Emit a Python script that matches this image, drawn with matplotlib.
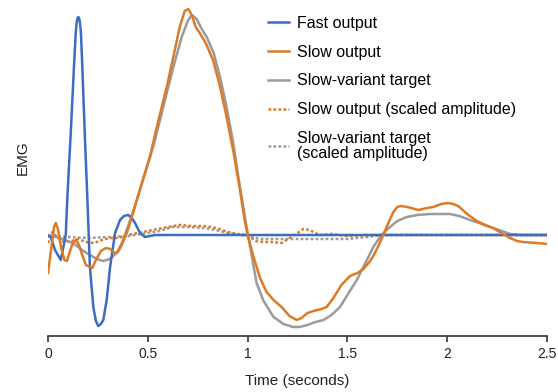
import matplotlib
matplotlib.use("Agg")
from matplotlib import pyplot as plt

plt.rcParams['font.family'] = ['Liberation Sans', 'DejaVu Sans']

# values (time in s, EMG in arbitrary units)
fast_t = [0, 0.0135, 0.035, 0.064, 0.089, 0.097, 0.114, 0.130, 0.139, 0.144, 0.148, 0.152,
          0.157, 0.161, 0.165, 0.172, 0.184, 0.197, 0.210, 0.227, 0.240, 0.252, 0.265, 0.277,
          0.294, 0.311, 0.336, 0.361, 0.380, 0.402, 0.420, 0.436, 0.461, 0.486, 0.536, 2.5]
fast_v = [-1, -2, -15, -25, 0, 38, 102, 168, 202, 213, 217, 218,
          216, 211, 202, 168, 102, 38, -32, -72, -86, -91, -89, -85,
          -65, -32, 2, 15, 19, 20, 17, 12, 2, -2, 0, 0]

slow_t = [0, 0.012, 0.022, 0.03, 0.039, 0.05, 0.065, 0.082, 0.095, 0.11, 0.125, 0.14,
          0.155, 0.175, 0.19, 0.222, 0.24, 0.265, 0.29, 0.31, 0.335, 0.35, 0.37, 0.40,
          0.43, 0.46, 0.51, 0.55, 0.595, 0.63, 0.66, 0.685, 0.703, 0.72, 0.74, 0.76,
          0.79, 0.827, 0.86, 0.895, 0.93, 0.962, 0.985, 1.0, 1.03, 1.062, 1.095, 1.13,
          1.17, 1.21, 1.246, 1.27, 1.3, 1.33, 1.37, 1.396, 1.43, 1.47, 1.513, 1.55,
          1.58, 1.61, 1.63, 1.655, 1.68, 1.705, 1.73, 1.75, 1.77, 1.8, 1.855, 1.9,
          1.93, 1.97, 2.005, 2.03, 2.055, 2.1, 2.148, 2.19, 2.23, 2.27, 2.315, 2.35,
          2.38, 2.45, 2.5]
slow_v = [-38, -20, -5, 8, 12, 6, -12, -25, -26, -16, -8, -5,
          -10, -22, -30, -33, -25, -16, -13, -14, -18, -17, -10, 5,
          25, 45, 78, 112, 148, 180, 208, 224, 226, 220, 208, 202,
          192, 175, 150, 118, 82, 45, 15, 0, -22, -43, -57, -65,
          -72, -81, -85, -83, -78, -76, -74, -72, -63, -50, -41, -38,
          -34, -27, -21, -11, 0, 12, 23, 28, 29, 28, 25, 27,
          28, 31, 32, 31, 29, 21, 14, 10, 7, 2, -3, -6,
          -7, -8, -9]

target_t = [0, 0.06, 0.125, 0.17, 0.21, 0.245, 0.276, 0.31, 0.344, 0.37, 0.394, 0.43,
            0.46, 0.527, 0.58, 0.628, 0.67, 0.70, 0.72, 0.745, 0.77, 0.795, 0.83,
            0.862, 0.895, 0.928, 0.96, 0.995, 1.02, 1.045, 1.08, 1.13, 1.18, 1.228,
            1.26, 1.3, 1.34, 1.38, 1.42, 1.463, 1.5, 1.547, 1.59, 1.63, 1.67, 1.713,
            1.75, 1.797, 1.85, 1.914, 1.96, 2.014, 2.06, 2.114, 2.16, 2.214, 2.26,
            2.315, 2.37, 2.5]
target_v = [0, -3, -8, -15, -20, -24, -26, -24, -18, -8, 5, 25,
            45, 88, 130, 168, 198, 214, 220, 216, 206, 198, 182,
            158, 128, 92, 50, 8, -20, -48, -66, -82, -89, -92,
            -92, -90, -87, -85, -80, -72, -60, -45, -28, -12, 0, 8,
            14, 18, 20, 21, 21, 21, 19, 15, 12, 8, 5,
            1, 0, 0]

slow_sc_t = [0, 0.022, 0.05, 0.08, 0.12, 0.15, 0.19, 0.23, 0.27, 0.31, 0.35, 0.40,
             0.45, 0.5, 0.55, 0.6, 0.66, 0.72, 0.78, 0.82, 0.86, 0.9, 0.95, 1.0,
             1.04, 1.08, 1.12, 1.17, 1.21, 1.25, 1.28, 1.31, 1.33, 1.36, 1.42, 1.5,
             1.6, 1.8, 2.5]
slow_sc_v = [-8, 3, -3, -7, -6, -4, -7, -8, -5, -3, -3, 0,
             2, 4, 6, 8, 10, 9, 9, 8, 6, 3, 1, 0,
             -6, -7, -7, -8, -3, 2, 6, 5, 3, 0, 1, -1,
             0, 0, 0]

target_sc_t = [0, 0.1, 0.2, 0.3, 0.4, 0.5, 0.56, 0.62, 0.7, 0.78, 0.84, 0.9, 0.97,
               1.02, 1.06, 1.2, 1.35, 1.5, 1.6, 1.67, 2.5]
target_sc_v = [0, -2, -3, -2, -1, 2, 4, 8, 8, 7, 5, 2, 0,
               -2, -4, -4, -4, -4, -2, 0, 0]

labels = ['Fast output', 'Slow output', 'Slow-variant target',
          'Slow output (scaled amplitude)', 'Slow-variant target\n(scaled amplitude)']

blue = '#3d6dbf'
orange = '#dc7a27'
gray = '#9b9b9b'

fig = plt.figure(figsize=(5.58, 3.92), dpi=100)
ax = fig.add_axes([48 / 558, 56 / 392, 499 / 558, 331 / 392])

h_tsc, = ax.plot(target_sc_t, target_sc_v, color=gray, lw=1.8, ls=(0, (1.1, 0.9)))
h_ssc, = ax.plot(slow_sc_t, slow_sc_v, color=orange, lw=1.8, ls=(0, (1.1, 0.9)))
h_tgt, = ax.plot(target_t, target_v, color=gray, lw=1.8)
h_fast, = ax.plot(fast_t, fast_v, color=blue, lw=1.8)
h_slow, = ax.plot(slow_t, slow_v, color=orange, lw=1.8)

ax.set_xlim(0, 2.5)
ax.set_ylim(-101, 230)
ax.set_xticks([0, 0.5, 1, 1.5, 2, 2.5])
ax.set_xticklabels(['0', '0.5', '1', '1.5', '2', '2.5'])
ax.set_yticks([])
for s in ['left', 'right', 'top']:
    ax.spines[s].set_visible(False)
ax.spines['bottom'].set_color('#333333')
ax.spines['bottom'].set_linewidth(1.2)
ax.tick_params(axis='x', colors='#333333', length=4, width=1.2, labelsize=10,
               labelcolor='#222222', pad=4)
ax.set_xlabel('Time (seconds)', fontsize=11, color='#222222', labelpad=9)
ax.set_ylabel('EMG', fontsize=11, color='#222222')
ax.yaxis.set_label_coords(-0.036, 0.54)

leg = ax.legend([h_fast, h_slow, h_tgt, h_ssc, h_tsc], labels, loc='upper left',
                bbox_to_anchor=(268 / 558, 1 - 16 / 392), bbox_transform=fig.transFigure,
                frameon=False, fontsize=11.5, handlelength=1.3, handletextpad=0.5,
                labelspacing=0.86, borderpad=0, borderaxespad=0)
leg.get_texts()[4].set_linespacing(1.0)

fig.savefig('out.png', dpi=100)
